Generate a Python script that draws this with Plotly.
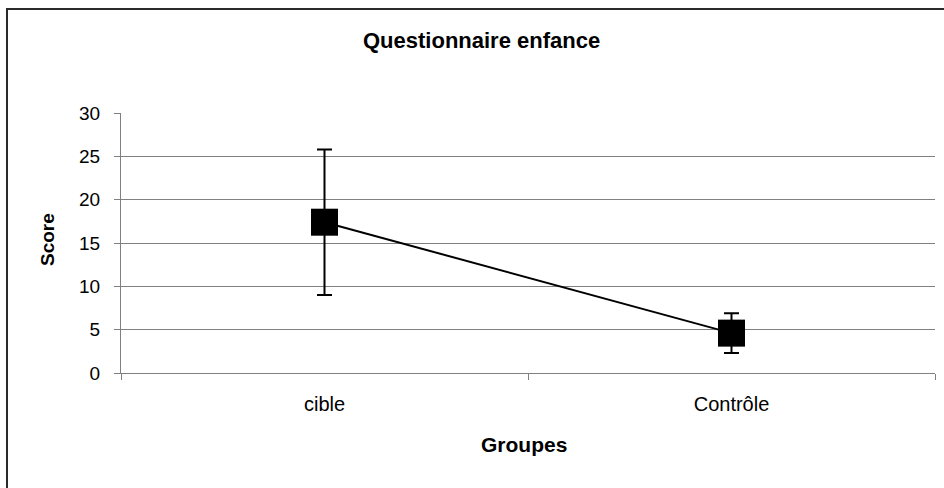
import plotly.graph_objects as go

groups = ["cible", "Contrôle"]
means = [17.4, 4.6]
errors = [8.4, 2.3]
y_ticks = [0, 5, 10, 15, 20, 25, 30]

FONT = "Liberation Sans, Arial, sans-serif"
L, R, T, B = 121, 935, 113, 373
W, H = 944, 488
pw, ph = R - L, B - T

def px(x):
    return (x - L) / pw

def py(y):
    return (B - y) / ph

fig = go.Figure()
fig.add_trace(go.Scatter(
    x=groups, y=means, mode="lines+markers",
    line=dict(color="black", width=2),
    marker=dict(symbol="square", size=27, color="black"),
    error_y=dict(type="data", array=errors, visible=True,
                 color="black", thickness=2, width=7.5),
    showlegend=False,
))

fig.update_layout(
    width=W, height=H,
    margin=dict(l=L, r=W - R, t=T, b=H - B, pad=0),
    paper_bgcolor="white", plot_bgcolor="white",
    font=dict(family=FONT, size=19, color="black"),
    xaxis=dict(
        type="category", range=[-0.5, 1.5], tickson="boundaries",
        ticks="outside", ticklen=6, tickcolor="#808080", tickwidth=1,
        showline=True, linecolor="#808080", linewidth=1,
        showgrid=False, zeroline=False, ticklabelstandoff=13,
        tickfont=dict(family=FONT, size=20, color="black"),
    ),
    yaxis=dict(
        range=[0, 30], tickvals=y_ticks, ticktext=[str(v) for v in y_ticks],
        ticks="outside", ticklen=6, tickcolor="#808080", tickwidth=1,
        showline=True, linecolor="#808080", linewidth=1,
        showgrid=True, gridcolor="#808080", gridwidth=1,
        zeroline=False, ticklabelstandoff=10,
        tickfont=dict(family=FONT, size=19, color="black"),
    ),
    annotations=[
        dict(text="<b>Questionnaire enfance</b>", xref="paper", yref="paper",
             x=px(481), y=py(40), showarrow=False,
             font=dict(family=FONT, size=22, color="black"),
             xanchor="center", yanchor="middle"),
        dict(text="<b>Score</b>", xref="paper", yref="paper",
             x=px(47), y=py(240), showarrow=False, textangle=-90,
             font=dict(family=FONT, size=19, color="black"),
             xanchor="center", yanchor="middle"),
        dict(text="<b>Groupes</b>", xref="paper", yref="paper",
             x=px(524), y=py(444), showarrow=False,
             font=dict(family=FONT, size=21, color="black"),
             xanchor="center", yanchor="middle"),
    ],
    shapes=[
        dict(type="rect", xref="paper", yref="paper",
             x0=px(7), x1=px(960), y0=py(500), y1=py(9),
             line=dict(color="#2a2a2a", width=2), fillcolor="rgba(0,0,0,0)",
             layer="below"),
    ],
)

fig.write_html("out.html", config={"displayModeBar": False},
               post_script="document.body.style.margin='0';document.body.style.padding='0';")
